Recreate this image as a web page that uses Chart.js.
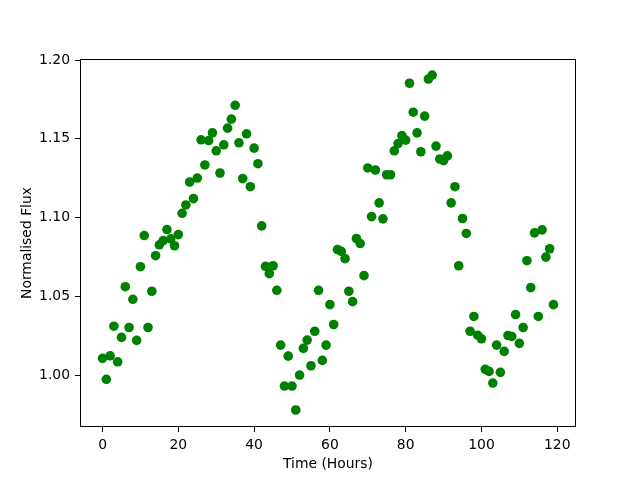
<!DOCTYPE html>
<html>
<head>
<meta charset="utf-8">
<script src="https://cdn.jsdelivr.net/npm/chart.js@4.4.1/dist/chart.umd.min.js"></script>
<style>
  html, body { margin: 0; padding: 0; background: #fff; }
</style>
</head>
<body>
<canvas id="chart" width="640" height="480"></canvas>
<script>
// hours of observation
var hours = [
  0, 1, 2, 3, 4, 5, 6, 7, 8, 9, 10, 11, 12, 13, 14, 15, 16, 17, 18, 19,
  20, 21, 22, 23, 24, 25, 26, 27, 28, 29, 30, 31, 32, 33, 34, 35, 36, 37, 38, 39,
  40, 41, 42, 43, 44, 45, 46, 47, 48, 49, 50, 51, 52, 53, 54, 55, 56, 57, 58, 59,
  60, 61, 62, 63, 64, 65, 66, 67, 68, 69, 70, 71, 72, 73, 74, 75, 76, 77, 78, 79,
  80, 81, 82, 83, 84, 85, 86, 87, 88, 89, 90, 91, 92, 93, 94, 95, 96, 97, 98, 99,
  100, 101, 102, 103, 104, 105, 106, 107, 108, 109, 110, 111, 112, 113, 114, 115, 116, 117, 118, 119
];
// normalised flux per hour
var flux = [
  1.0106, 0.9973, 1.0122, 1.0310, 1.0084, 1.0239, 1.0561, 1.0302, 1.0481, 1.0220,
  1.0688, 1.0886, 1.0302, 1.0532, 1.0758, 1.0827, 1.0854, 1.0924, 1.0865, 1.0821,
  1.0892, 1.1027, 1.1080, 1.1226, 1.1120, 1.1251, 1.1494, 1.1334, 1.1489, 1.1538,
  1.1424, 1.1283, 1.1462, 1.1568, 1.1625, 1.1713, 1.1475, 1.1247, 1.1532, 1.1196,
  1.1441, 1.1342, 1.0947, 1.0690, 1.0644, 1.0694, 1.0538, 1.0190, 0.9930, 1.0120,
  0.9930, 0.9778, 1.0000, 1.0169, 1.0222, 1.0059, 1.0278, 1.0538, 1.0093, 1.0190,
  1.0447, 1.0321, 1.0797, 1.0785, 1.0739, 1.0532, 1.0466, 1.0867, 1.0835, 1.0631,
  1.1315, 1.1006, 1.1302, 1.1093, 1.0992, 1.1272, 1.1272, 1.1424, 1.1470, 1.1521,
  1.1492, 1.1853, 1.1669, 1.1538, 1.1418, 1.1644, 1.1880, 1.1905, 1.1454, 1.1372,
  1.1361, 1.1392, 1.1093, 1.1196, 1.0694, 1.0994, 1.0899, 1.0278, 1.0372, 1.0253,
  1.0230, 1.0036, 1.0023, 0.9949, 1.0190, 1.0017, 1.0150, 1.0251, 1.0245, 1.0384,
  1.0201, 1.0302, 1.0726, 1.0555, 1.0903, 1.0372, 1.0922, 1.0749, 1.0802, 1.0447
];
var xTicks = [0, 20, 40, 60, 80, 100, 120];
var yTicks = [1.00, 1.05, 1.10, 1.15, 1.20];

var font = { family: "'DejaVu Sans'", size: 13.9 };

// box round the plot area, like the matplotlib spines
var frame = {
  id: 'frame',
  afterDraw: function (chart) {
    var a = chart.chartArea, ctx = chart.ctx;
    ctx.save();
    ctx.strokeStyle = '#000';
    ctx.lineWidth = 1;
    ctx.strokeRect(Math.round(a.left) + 0.5, Math.round(a.top) + 0.5,
      Math.round(a.right - a.left) - 1, Math.round(a.bottom - a.top) - 1);
    ctx.restore();
  }
};

var points = hours.map(function (h, i) { return { x: h, y: flux[i] }; });

new Chart(document.getElementById('chart'), {
  type: 'scatter',
  data: {
    datasets: [{
      data: points,
      pointRadius: 4.8,
      pointHoverRadius: 4.8,
      pointBorderWidth: 0,
      backgroundColor: '#008000',
      borderColor: '#008000'
    }]
  },
  options: {
    responsive: false,
    animation: false,
    devicePixelRatio: 1,
    layout: { padding: { left: 0, right: 64, top: 59, bottom: 0 } },
    plugins: { legend: { display: false }, tooltip: { enabled: false } },
    scales: {
      x: {
        type: 'linear',
        min: -5.95,
        max: 124.95,
        afterBuildTicks: function (s) { s.ticks = xTicks.map(function (v) { return { value: v }; }); },
        afterFit: function (s) { s.height = 53; },
        grid: { display: true, drawOnChartArea: false, drawTicks: true, tickLength: 5, color: '#000' },
        border: { display: false },
        ticks: { color: '#000', font: font, padding: 5, maxRotation: 0,
          callback: function (v) { return String(v); } },
        title: { display: true, text: 'Time (Hours)', color: '#000', font: font, padding: { top: 0, bottom: 7 } }
      },
      y: {
        type: 'linear',
        min: 0.967,
        max: 1.2007,
        afterBuildTicks: function (s) { s.ticks = yTicks.map(function (v) { return { value: v }; }); },
        afterFit: function (s) { s.width = 80; },
        grid: { display: true, drawOnChartArea: false, drawTicks: true, tickLength: 5, color: '#000' },
        border: { display: false },
        ticks: { color: '#000', font: font, padding: 5,
          callback: function (v) { return v.toFixed(2); } },
        title: { display: true, text: 'Normalised Flux', color: '#000', font: font, padding: { top: 19, bottom: 0 } }
      }
    }
  },
  plugins: [frame]
});
</script>
</body>
</html>
